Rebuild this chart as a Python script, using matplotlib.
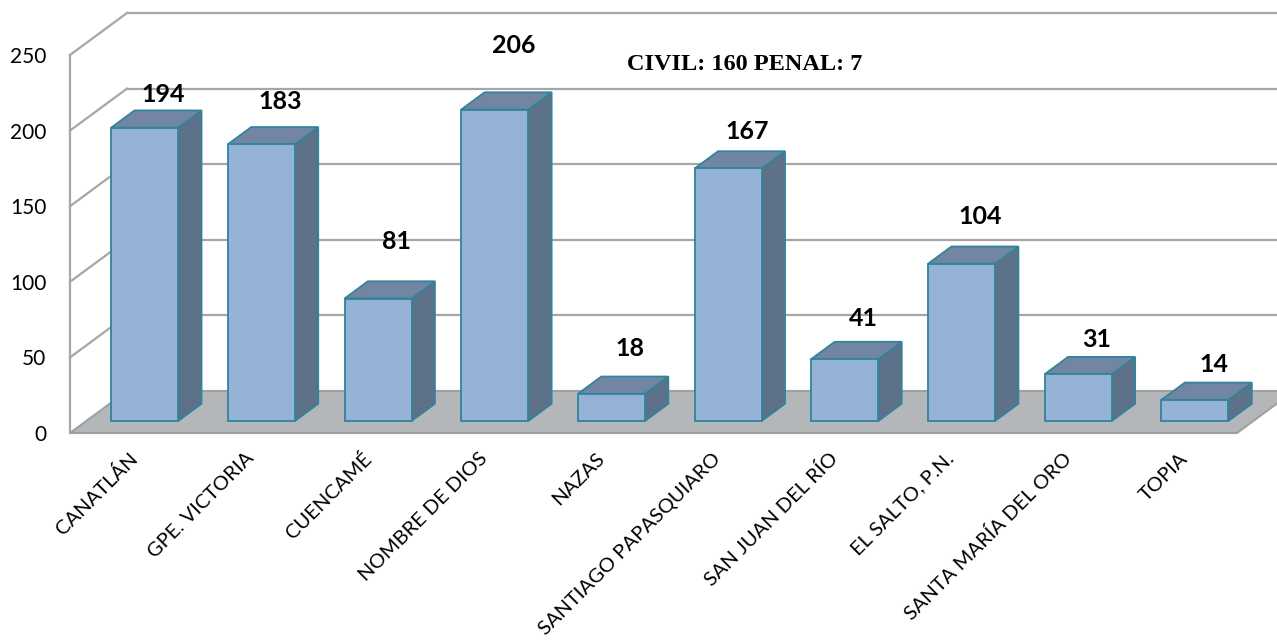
"""
3D-style column chart: cases per municipality (Durango).
Output: out.png
"""
import numpy as np
import matplotlib
matplotlib.use('Agg')
import matplotlib.pyplot as plt
from matplotlib.patches import Polygon

CATEGORIES = ['CANATLÁN', 'GPE. VICTORIA', 'CUENCAMÉ', 'NOMBRE DE DIOS', 'NAZAS',
              'SANTIAGO PAPASQUIARO', 'SAN JUAN DEL RÍO', 'EL SALTO, P.N.',
              'SANTA MARÍA DEL ORO', 'TOPIA']
VALUES = [194, 183, 81, 206, 18, 167, 41, 104, 31, 14]
Y_TICKS = [0, 50, 100, 150, 200, 250]
NOTE = 'CIVIL: 160 PENAL: 7'

# label lift above the bar front (pixels), as placed in the original
LABEL_LIFT = [33, 43, 57, 64, 45, 37, 40, 47, 35, 35]

FRONT = '#95b3d7'
TOP = '#7286a3'
SIDE = '#5d7188'
EDGE = '#31849b'
FLOOR = '#b3b7ba'
GRID = '#a6a6a6'

W, H = 1277, 642
PX_X = 116.7          # pixels per category
PX_Y = 1.512          # pixels per value unit
DX = 57 / PX_X        # floor depth, category units
DY = 42 / PX_Y        # floor depth, value units
F0 = 0.286            # depth fraction of bar front
FD = 0.41             # bar depth fraction
BW = 67 / PX_X        # bar width

plt.rcParams['font.family'] = ['Lato', 'DejaVu Sans']

fig = plt.figure(figsize=(W / 100, H / 100), dpi=100)
ax = fig.add_axes([70 / W, (H - 433) / H, 10 * PX_X / W, 250 * PX_Y / H])
ax.set_xlim(0, 10)
ax.set_ylim(0, 250)
n = len(CATEGORIES)

# floor
ax.add_patch(Polygon([(0, 0), (n, 0), (n + DX, DY), (DX, DY)], closed=True,
                     facecolor=FLOOR, edgecolor='#a0a0a0', lw=1.5,
                     clip_on=False, zorder=1))

# back wall gridlines + side wall diagonals
for t in Y_TICKS[1:]:
    ax.plot([DX, n + DX + 1], [t + DY, t + DY], color=GRID, lw=1.6,
            clip_on=False, zorder=0.5)
    ax.plot([0, DX], [t, t + DY], color=GRID, lw=1.6, clip_on=False, zorder=0.5)

# bars
x = np.arange(n) + 0.5 + F0 * DX
y0 = F0 * DY
ax.bar(x, VALUES, width=BW, bottom=y0, color=FRONT, edgecolor=EDGE,
       linewidth=1.3, zorder=4)
for xi, v in zip(x, VALUES):
    xl, xr = xi - BW / 2, xi + BW / 2
    top = y0 + v
    ddx, ddy = FD * DX, FD * DY
    ax.add_patch(Polygon([(xr, y0), (xr + ddx, y0 + ddy), (xr + ddx, top + ddy),
                          (xr, top)], closed=True, facecolor=SIDE,
                         edgecolor=EDGE, lw=1.3, zorder=3, clip_on=False))
    ax.add_patch(Polygon([(xl, top), (xr, top), (xr + ddx, top + ddy),
                          (xl + ddx, top + ddy)], closed=True, facecolor=TOP,
                         edgecolor=EDGE, lw=1.3, zorder=3, clip_on=False))

# value labels
for i, (v, lift) in enumerate(zip(VALUES, LABEL_LIFT)):
    ax.text(i + 0.5 + 35 / PX_X, y0 + v + lift / PX_Y, str(v),
            ha='center', va='center', fontsize=18, fontweight='bold',
            color='black', zorder=6, clip_on=False)

ax.text((745 - 70) / PX_X, (433 - 65) / PX_Y, NOTE, ha='center', va='center',
        fontsize=17.5, fontweight='bold', family='Liberation Serif', zorder=6)

# axes styling
for s in ['top', 'right', 'bottom']:
    ax.spines[s].set_visible(False)
ax.spines['left'].set_color(GRID)
ax.spines['left'].set_linewidth(1.6)
ax.spines['left'].set_zorder(2)
ax.set_yticks(Y_TICKS)
ax.set_yticklabels([str(t) for t in Y_TICKS], fontsize=15)
ax.set_xticks(np.arange(n) + 0.5)
ax.set_xticklabels(CATEGORIES, rotation=45, ha='right', rotation_mode='anchor',
                   fontsize=14.5)
ax.tick_params(axis='y', length=0, pad=17)
ax.tick_params(axis='x', length=0, pad=12)
ax.patch.set_alpha(0)

fig.savefig('out.png', dpi=100, facecolor='white')
plt.close(fig)
